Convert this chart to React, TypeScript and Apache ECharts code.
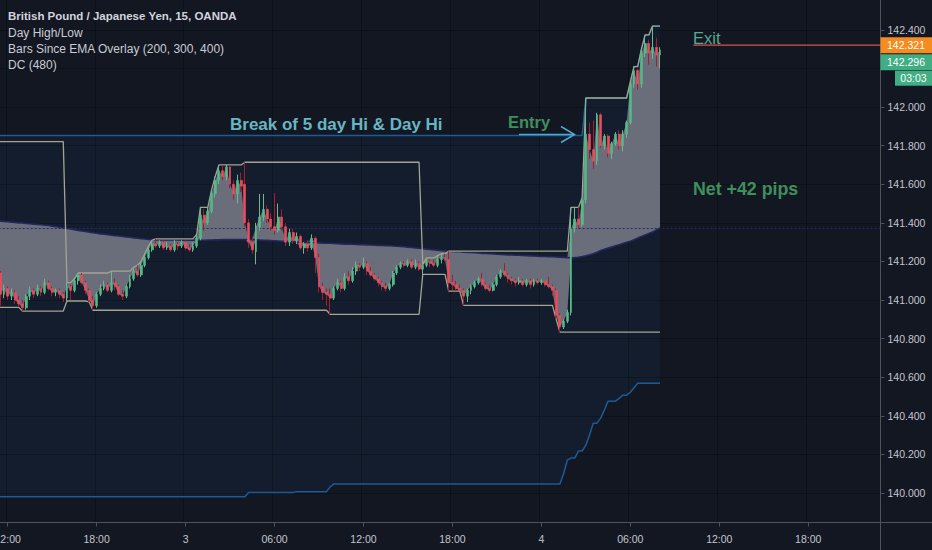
import React, { useEffect, useRef } from "react";
import * as echarts from "echarts";

// ---- time axis (15-minute bars, first slot = day 2, 11:15) ----
const FIRST_DAY = 2;
const FIRST_MINUTE = 11 * 60 + 15;
const BAR_MINUTES = 15;
const BAR_SLOTS = 239;
const LABEL_EVERY_MINUTES = 360;

// ---- candles ----
const opens = [
  141.12, 141.14, 141.03, 141.06, 141.02, 141.04, 141.0, 140.98, 140.96, 141.02,
  141.05, 141.03, 141.06, 141.04, 141.09, 141.06, 141.04, 141.05, 141.03, 141.01,
  141.07, 141.05, 141.1, 141.13, 141.09, 141.05, 141.0, 140.97, 141.03, 141.06,
  141.08, 141.05, 141.09, 141.07, 141.03, 141.02, 141.07, 141.11, 141.15, 141.13,
  141.18, 141.22, 141.26, 141.29, 141.28, 141.3, 141.27, 141.28, 141.26, 141.29,
  141.28, 141.3, 141.27, 141.26, 141.28, 141.32, 141.44, 141.4, 141.46, 141.55,
  141.62, 141.67, 141.64, 141.69, 141.6, 141.55, 141.62, 141.6, 141.4, 141.3,
  141.25, 141.38, 141.43, 141.47, 141.42, 141.38, 141.36, 141.43, 141.38, 141.3,
  141.35, 141.31, 141.33, 141.27, 141.29, 141.27, 141.32, 141.22, 141.07, 141.04,
  141.03, 141.01, 141.06, 141.09, 141.06, 141.12, 141.1, 141.15, 141.18, 141.17,
  141.19, 141.15, 141.13, 141.11, 141.09, 141.07, 141.06, 141.08, 141.14, 141.17,
  141.19, 141.18, 141.2, 141.17, 141.19, 141.16, 141.18, 141.2, 141.19, 141.18,
  141.21, 141.22, 141.21, 141.09, 141.08, 141.06, 141.05, 141.02, 141.05, 141.07,
  141.09, 141.11, 141.08, 141.06, 141.05, 141.08, 141.12, 141.15, 141.13, 141.11,
  141.1, 141.09, 141.1, 141.08, 141.1, 141.08, 141.1, 141.09, 141.1, 141.08,
  141.07, 141.05, 140.92, 140.86, 140.89, 140.935, 141.37, 141.42, 141.39, 141.52,
  141.86, 141.78, 141.72, 141.96, 141.8, 141.85, 141.76, 141.81, 141.86, 141.8,
  141.86, 141.92, 142.12, 142.19, 142.12, 142.28, 142.33, 142.28, 142.31, 142.27,
];
const highs = [
  141.15, 141.15, 141.08, 141.07, 141.06, 141.05, 141.02, 141.0, 141.03, 141.07,
  141.06, 141.08, 141.07, 141.11, 141.1, 141.07, 141.06, 141.06, 141.04, 141.09,
  141.08, 141.11, 141.14, 141.14, 141.1, 141.06, 141.02, 141.04, 141.08, 141.1,
  141.09, 141.15, 141.11, 141.08, 141.05, 141.08, 141.13, 141.17, 141.18, 141.2,
  141.24, 141.28, 141.31, 141.317, 141.31, 141.31, 141.3, 141.29, 141.31, 141.3,
  141.31, 141.31, 141.29, 141.3, 141.34, 141.48, 141.47, 141.48, 141.57, 141.64,
  141.7, 141.7, 141.7, 141.7, 141.62, 141.65, 141.66, 141.714, 141.42, 141.33,
  141.4, 141.55, 141.55, 141.49, 141.45, 141.555, 141.5, 141.47, 141.4, 141.37,
  141.37, 141.35, 141.34, 141.3, 141.31, 141.34, 141.33, 141.24, 141.09, 141.06,
  141.06, 141.07, 141.11, 141.1, 141.14, 141.15, 141.17, 141.2, 141.19, 141.22,
  141.2, 141.17, 141.14, 141.12, 141.1, 141.09, 141.09, 141.15, 141.18, 141.2,
  141.2, 141.21, 141.21, 141.21, 141.2, 141.184, 141.218, 141.21, 141.21, 141.23,
  141.24, 141.24, 141.253, 141.13, 141.1, 141.08, 141.06, 141.06, 141.08, 141.1,
  141.12, 141.14, 141.09, 141.08, 141.09, 141.13, 141.16, 141.19, 141.14, 141.12,
  141.11, 141.12, 141.11, 141.11, 141.11, 141.11, 141.11, 141.11, 141.1, 141.12,
  141.08, 141.06, 140.93, 140.9, 140.95, 141.48, 141.478, 141.48, 141.53, 142.047,
  141.92, 141.93, 141.97, 141.97, 141.86, 141.86, 141.82, 141.87, 141.88, 141.88,
  141.93, 142.13, 142.21, 142.2, 142.3, 142.374, 142.35, 142.42, 142.36, 142.31,
];
const lows = [
  141.1, 140.97, 141.01, 141.0, 141.0, 140.98, 140.965, 140.943, 140.95, 141.0,
  141.01, 141.02, 141.02, 141.03, 141.05, 141.02, 141.02, 141.01, 140.99, 140.995,
  141.0, 141.04, 141.08, 141.08, 141.03, 140.99, 140.947, 140.96, 141.02, 141.05,
  141.04, 141.04, 141.05, 141.02, 141.0, 141.01, 141.06, 141.1, 141.12, 141.12,
  141.17, 141.21, 141.25, 141.27, 141.27, 141.26, 141.26, 141.25, 141.25, 141.26,
  141.27, 141.26, 141.25, 141.25, 141.27, 141.31, 141.36, 141.39, 141.45, 141.53,
  141.6, 141.62, 141.62, 141.58, 141.52, 141.5, 141.56, 141.38, 141.27, 141.24,
  141.185, 141.36, 141.41, 141.4, 141.36, 141.34, 141.35, 141.36, 141.28, 141.28,
  141.29, 141.29, 141.26, 141.24, 141.25, 141.26, 141.14, 141.04, 141.0, 140.97,
  140.926, 141.0, 141.05, 141.04, 141.05, 141.08, 141.09, 141.13, 141.15, 141.16,
  141.13, 141.12, 141.1, 141.07, 141.05, 141.045, 141.05, 141.07, 141.13, 141.16,
  141.17, 141.17, 141.16, 141.16, 141.15, 141.133, 141.17, 141.17, 141.17, 141.17,
  141.19, 141.2, 141.046, 141.05, 141.047, 141.047, 140.972, 140.99, 141.03, 141.06,
  141.08, 141.07, 141.05, 141.04, 141.045, 141.07, 141.11, 141.12, 141.09, 141.08,
  141.07, 141.08, 141.07, 141.07, 141.06, 141.07, 141.08, 141.08, 141.07, 141.06,
  141.02, 140.9, 140.834, 140.85, 140.88, 140.92, 141.35, 141.37, 141.38, 141.5,
  141.73, 141.68, 141.7, 141.79, 141.78, 141.74, 141.73, 141.8, 141.78, 141.77,
  141.84, 141.91, 142.1, 142.09, 142.1, 142.26, 142.22, 142.25, 142.21, 142.2,
];
const closes = [
  141.14, 141.03, 141.06, 141.02, 141.04, 141.0, 140.98, 140.96, 141.02, 141.05,
  141.03, 141.06, 141.04, 141.09, 141.06, 141.04, 141.05, 141.03, 141.01, 141.07,
  141.05, 141.1, 141.13, 141.09, 141.05, 141.0, 140.97, 141.03, 141.06, 141.08,
  141.05, 141.09, 141.07, 141.03, 141.02, 141.07, 141.11, 141.15, 141.13, 141.18,
  141.22, 141.26, 141.29, 141.28, 141.3, 141.27, 141.28, 141.26, 141.29, 141.28,
  141.3, 141.27, 141.26, 141.28, 141.32, 141.44, 141.4, 141.46, 141.55, 141.62,
  141.67, 141.64, 141.69, 141.6, 141.55, 141.62, 141.59, 141.4, 141.3, 141.26,
  141.38, 141.43, 141.47, 141.42, 141.38, 141.36, 141.43, 141.38, 141.3, 141.35,
  141.31, 141.33, 141.27, 141.29, 141.27, 141.32, 141.22, 141.07, 141.04, 141.03,
  141.01, 141.06, 141.09, 141.06, 141.12, 141.1, 141.15, 141.18, 141.17, 141.19,
  141.15, 141.13, 141.11, 141.09, 141.07, 141.06, 141.08, 141.14, 141.17, 141.19,
  141.18, 141.2, 141.17, 141.19, 141.16, 141.18, 141.2, 141.19, 141.18, 141.21,
  141.22, 141.21, 141.09, 141.08, 141.06, 141.05, 141.02, 141.05, 141.07, 141.09,
  141.11, 141.08, 141.06, 141.05, 141.08, 141.12, 141.15, 141.13, 141.11, 141.1,
  141.09, 141.1, 141.08, 141.1, 141.08, 141.1, 141.09, 141.1, 141.08, 141.07,
  141.05, 140.92, 140.86, 140.89, 140.935, 141.37, 141.42, 141.39, 141.52, 141.86,
  141.78, 141.72, 141.96, 141.8, 141.85, 141.76, 141.81, 141.86, 141.8, 141.86,
  141.92, 142.12, 142.19, 142.12, 142.28, 142.33, 142.28, 142.31, 142.27, 142.296,
];

// ---- "Bars Since EMA Overlay" EMA line, read per bar ----
const emaValues = [
  141.411, 141.409, 141.407, 141.406, 141.404, 141.402, 141.4, 141.399, 141.397, 141.395,
  141.393, 141.392, 141.39, 141.388, 141.386, 141.383, 141.38, 141.377, 141.374, 141.371,
  141.368, 141.365, 141.361, 141.358, 141.355, 141.352, 141.349, 141.346, 141.343, 141.341,
  141.339, 141.336, 141.334, 141.332, 141.329, 141.327, 141.325, 141.322, 141.32, 141.318,
  141.316, 141.314, 141.313, 141.313, 141.312, 141.312, 141.312, 141.311, 141.311, 141.311,
  141.31, 141.31, 141.31, 141.31, 141.31, 141.31, 141.31, 141.311, 141.311, 141.312,
  141.312, 141.313, 141.313, 141.313, 141.314, 141.314, 141.314, 141.314, 141.314, 141.313,
  141.312, 141.311, 141.31, 141.309, 141.308, 141.307, 141.306, 141.305, 141.304, 141.303,
  141.302, 141.301, 141.3, 141.299, 141.298, 141.298, 141.297, 141.296, 141.295, 141.294,
  141.294, 141.293, 141.292, 141.291, 141.29, 141.29, 141.289, 141.288, 141.287, 141.287,
  141.286, 141.285, 141.284, 141.283, 141.283, 141.282, 141.281, 141.28, 141.279, 141.278,
  141.276, 141.274, 141.272, 141.27, 141.268, 141.266, 141.264, 141.262, 141.26, 141.258,
  141.256, 141.255, 141.253, 141.252, 141.251, 141.25, 141.248, 141.247, 141.246, 141.245,
  141.244, 141.242, 141.241, 141.24, 141.239, 141.237, 141.236, 141.235, 141.234, 141.233,
  141.232, 141.232, 141.231, 141.23, 141.229, 141.228, 141.227, 141.226, 141.226, 141.225,
  141.224, 141.223, 141.222, 141.221, 141.22, 141.219, 141.22, 141.222, 141.225, 141.229,
  141.234, 141.24, 141.247, 141.257, 141.263, 141.269, 141.275, 141.281, 141.287, 141.293,
  141.299, 141.305, 141.313, 141.321, 141.329, 141.337, 141.345, 141.353, 141.363, 141.374,
];

// ---- DC(480) lower band: [first bar, value] steps; upper band starts at the 5-day high ----
const dcLowerSteps = [
  [0, 139.981], [68, 140.002], [81, 140.007], [90, 140.031], [91, 140.047],
  [153, 140.1], [154, 140.17], [155, 140.181], [157, 140.217], [159, 140.248],
  [160, 140.3], [161, 140.362], [163, 140.388], [164, 140.43], [165, 140.476],
  [168, 140.49], [169, 140.507], [171, 140.522], [172, 140.545], [173, 140.569],
];
const DC_UPPER_START = 141.853;

// ---- Day High/Low: previous values carried in, session starts ----
const DAY_HIGH_START = 141.821;
const DAY_LOW_START = 140.962;
const SESSION_STARTS = [19, 115];

// ---- price scale ----
const Y_MIN = 139.847;
const Y_MAX = 142.555;
const yTicks = [140.0, 140.2, 140.4, 140.6, 140.8, 141.0, 141.2, 141.4, 141.6, 141.8, 142.0, 142.2, 142.4];
// 142.200 sits under the last-price badges, as in the original
const yLabels = [140.0, 140.2, 140.4, 140.6, 140.8, 141.0, 141.2, 141.4, 141.6, 141.8, 142.0, 142.4];

// ---- annotations ----
const EXIT_PRICE = 142.321;
const EXIT_FROM_BAR = 188;
const LAST_PRICE = 142.296;
const COUNTDOWN = "03:03";
const legendLines = [
  "British Pound / Japanese Yen, 15, OANDA",
  "Day High/Low",
  "Bars Since EMA Overlay (200, 300, 400)",
  "DC (480)",
];

const UP = "#53b987";
const DOWN = "#eb4d5c";
const UP_WICK = "#72b58f";
const DOWN_WICK = "#a61e2d";
const BG = "#131722";
const GRID = "#0c1017";
const SCALE = "#50535e";
const AXIS_TEXT = "#c3c6ce";
const FONT = '"Liberation Sans", Arial, sans-serif';

const pad = (v: number) => (v < 10 ? "0" + v : "" + v);
const categories = Array.from({ length: BAR_SLOTS }, (_, i) => {
  const t = FIRST_MINUTE + i * BAR_MINUTES;
  const d = FIRST_DAY + Math.floor(t / 1440);
  const m = t % 1440;
  return `${d} ${pad(Math.floor(m / 60))}:${pad(m % 60)}`;
});
const isLabelSlot = (idx: number) => (FIRST_MINUTE + idx * BAR_MINUTES) % LABEL_EVERY_MINUTES === 0;

function buildOption() {
  const n = closes.length;
  const dcLower: number[] = [];
  let step = 0;
  for (let i = 0; i < n; i++) {
    while (step + 1 < dcLowerSteps.length && dcLowerSteps[step + 1][0] <= i) step++;
    dcLower.push(dcLowerSteps[step][1]);
  }
  const dcUpper: number[] = [];
  let up = DC_UPPER_START;
  for (let i = 0; i < n; i++) {
    up = Math.max(up, highs[i]);
    dcUpper.push(up);
  }
  const dayHigh: number[] = [];
  const dayLow: number[] = [];
  let hi = DAY_HIGH_START;
  let lo = DAY_LOW_START;
  for (let i = 0; i < n; i++) {
    if (SESSION_STARTS.includes(i)) {
      hi = highs[i];
      lo = lows[i];
    } else {
      hi = Math.max(hi, highs[i]);
      lo = Math.min(lo, lows[i]);
    }
    dayHigh.push(hi);
    dayLow.push(lo);
  }
  const emaBase = closes.map((c, i) => Math.min(c, emaValues[i]));
  const emaBand = closes.map((c, i) => Math.abs(c - emaValues[i]));
  const dcBand = dcUpper.map((u, i) => u - dcLower[i]);
  const wickData = closes.map((c, i) => [opens[i], c, lows[i], highs[i]]);
  const bodyData = closes.map((c, i) => [opens[i], c, Math.min(opens[i], c), Math.max(opens[i], c)]);

  const hidden = {
    type: "line",
    symbol: "none",
    silent: true,
    lineStyle: { opacity: 0, width: 0 },
    emphasis: { disabled: true },
  };
  const plainLine = (data: number[], color: string, width: number, z: number) => ({
    type: "line",
    data,
    symbol: "none",
    silent: true,
    z,
    lineStyle: { color, width },
    emphasis: { disabled: true },
  });

  return {
    animation: false,
    backgroundColor: BG,
    grid: { left: -5.3, right: 51.5, top: 0, bottom: 27.5, outerBoundsMode: "none", containLabel: false },
    xAxis: {
      type: "category",
      data: categories,
      boundaryGap: true,
      axisLine: { show: true, lineStyle: { color: SCALE, width: 1 } },
      axisTick: {
        show: true,
        alignWithLabel: true,
        length: 4,
        interval: (idx: number) => isLabelSlot(idx),
        lineStyle: { color: SCALE },
      },
      axisLabel: {
        interval: (idx: number) => isLabelSlot(idx),
        formatter: (v: string) => {
          const [d, hm] = v.split(" ");
          return hm === "00:00" ? d : hm;
        },
        color: AXIS_TEXT,
        fontSize: 10.5,
        fontFamily: FONT,
        margin: 11,
      },
      splitLine: {
        show: true,
        interval: (idx: number) => isLabelSlot(idx),
        lineStyle: { color: GRID, width: 1 },
      },
    },
    yAxis: {
      type: "value",
      position: "right",
      min: Y_MIN,
      max: Y_MAX,
      axisLine: { show: true, lineStyle: { color: SCALE, width: 1 } },
      axisTick: { show: true, length: 4, customValues: yTicks, lineStyle: { color: SCALE } },
      axisLabel: {
        customValues: yLabels,
        formatter: (v: number) => v.toFixed(3),
        color: AXIS_TEXT,
        fontSize: 10.5,
        fontFamily: FONT,
        margin: 7,
      },
      splitLine: { show: true, lineStyle: { color: GRID, width: 1 } },
    },
    series: [
      { ...hidden, name: "dcBase", data: dcLower, stack: "dc", z: 1 },
      {
        ...hidden,
        name: "dcBand",
        data: dcBand,
        stack: "dc",
        z: 1,
        areaStyle: { color: "rgba(33,150,243,0.055)", opacity: 1 },
      },
      { ...hidden, name: "emaBase", data: emaBase, stack: "ema", z: 2 },
      {
        ...hidden,
        name: "emaBand",
        data: emaBand,
        stack: "ema",
        z: 2,
        areaStyle: { color: "#6a6e7b", opacity: 1 },
      },
      {
        ...plainLine(emaValues, "#24275e", 1.6, 3),
        markLine: {
          silent: true,
          symbol: ["none", "none"],
          label: { show: false },
          lineStyle: { color: "#272a68", type: [2, 2], width: 1 },
          data: [{ yAxis: emaValues[emaValues.length - 1] }],
        },
      },
      plainLine(dcUpper, "#1d5b96", 1.5, 4),
      plainLine(dcLower, "#1d5b96", 1.5, 4),
      plainLine(dayHigh, "#a2a590", 1.3, 5),
      plainLine(dayLow, "#a2a590", 1.3, 5),
      {
        type: "candlestick",
        data: wickData,
        barWidth: 1,
        silent: true,
        z: 6,
        itemStyle: {
          color: UP_WICK,
          color0: DOWN_WICK,
          borderColor: UP_WICK,
          borderColor0: DOWN_WICK,
          borderWidth: 1,
        },
        emphasis: { disabled: true },
      },
      {
        type: "candlestick",
        data: bodyData,
        barWidth: 2.4,
        silent: true,
        z: 7,
        itemStyle: {
          color: UP,
          color0: DOWN,
          borderColor: UP,
          borderColor0: DOWN,
          borderWidth: 0.6,
        },
        emphasis: { disabled: true },
      },
    ],
  };
}

export default function App() {
  const ref = useRef<HTMLDivElement>(null);
  useEffect(() => {
    const el = ref.current;
    if (!el) return;
    const chart = echarts.init(el, undefined, { renderer: "svg" });
    chart.setOption(buildOption() as any);

    const exitPt = chart.convertToPixel({ gridIndex: 0 }, [EXIT_FROM_BAR, EXIT_PRICE]) as number[];
    const yExit = exitPt[1];
    const axisX = 880.5;

    const txt = (text: string, x: number, y: number, fill: string, font: string, align = "left") => ({
      type: "text",
      x,
      y,
      z: 100,
      silent: true,
      style: { text, fill, font, align, verticalAlign: "middle" },
    });

    const elements: any[] = [
      txt(legendLines[0], 8, 15.5, "#d1d4dc", `bold 11.5px ${FONT}`),
      txt(legendLines[1], 8, 32.5, "#c9ccd4", `12px ${FONT}`),
      txt(legendLines[2], 8, 48.5, "#c9ccd4", `12px ${FONT}`),
      txt(legendLines[3], 8, 64.5, "#c9ccd4", `12px ${FONT}`),
      txt("Break of 5 day Hi & Day Hi", 230, 124, "#67b6c2", `bold 17px ${FONT}`),
      txt("Entry", 508, 121.5, "#3f8f5c", `bold 16.5px ${FONT}`),
      txt("Net +42 pips", 693, 189, "#3f8f5c", `bold 17.8px ${FONT}`),
      txt("Exit", 693, 37.5, "#56a88f", `16.5px ${FONT}`),
      {
        type: "line",
        z: 100,
        silent: true,
        shape: { x1: 519, y1: 134.5, x2: 574, y2: 134.5 },
        style: { stroke: "#4ea9cf", lineWidth: 1.5 },
      },
      {
        type: "polyline",
        z: 100,
        silent: true,
        shape: { points: [[561, 126.5], [574.5, 134.5], [561, 142.5]] },
        style: { stroke: "#4ea9cf", lineWidth: 1.5, fill: null },
      },
      {
        type: "line",
        z: 100,
        silent: true,
        shape: { x1: exitPt[0], y1: yExit, x2: axisX, y2: yExit },
        style: { stroke: "#d9534f", lineWidth: 1.2 },
      },
      {
        type: "line",
        z: 100,
        silent: true,
        shape: { x1: axisX, y1: 522.5, x2: axisX, y2: 550 },
        style: { stroke: SCALE, lineWidth: 1 },
      },
      {
        type: "line",
        z: 100,
        silent: true,
        shape: { x1: axisX, y1: 522.5, x2: 932, y2: 522.5 },
        style: { stroke: SCALE, lineWidth: 1 },
      },
      {
        type: "rect",
        z: 100,
        silent: true,
        shape: { x: axisX, y: yExit - 8, width: 932 - axisX, height: 16 },
        style: { fill: "#f68b1f" },
      },
      txt(EXIT_PRICE.toFixed(3), 906, yExit, "#ffffff", `10.5px ${FONT}`, "center"),
      {
        type: "rect",
        z: 100,
        silent: true,
        shape: { x: axisX, y: yExit + 9, width: 932 - axisX, height: 16 },
        style: { fill: "#41ad83" },
      },
      txt(LAST_PRICE.toFixed(3), 906, yExit + 17, "#ffffff", `10.5px ${FONT}`, "center"),
      {
        type: "rect",
        z: 100,
        silent: true,
        shape: { x: 895, y: yExit + 25.5, width: 37, height: 15 },
        style: { fill: "#41ad83" },
      },
      txt(COUNTDOWN, 913.5, yExit + 33, "#ffffff", `10.5px ${FONT}`, "center"),
    ];
    chart.setOption({ graphic: { elements } });
    return () => chart.dispose();
  }, []);
  return (
    <div
      ref={ref}
      style={{ position: "fixed", left: 0, top: 0, width: 932, height: 550 }}
    />
  );
}
